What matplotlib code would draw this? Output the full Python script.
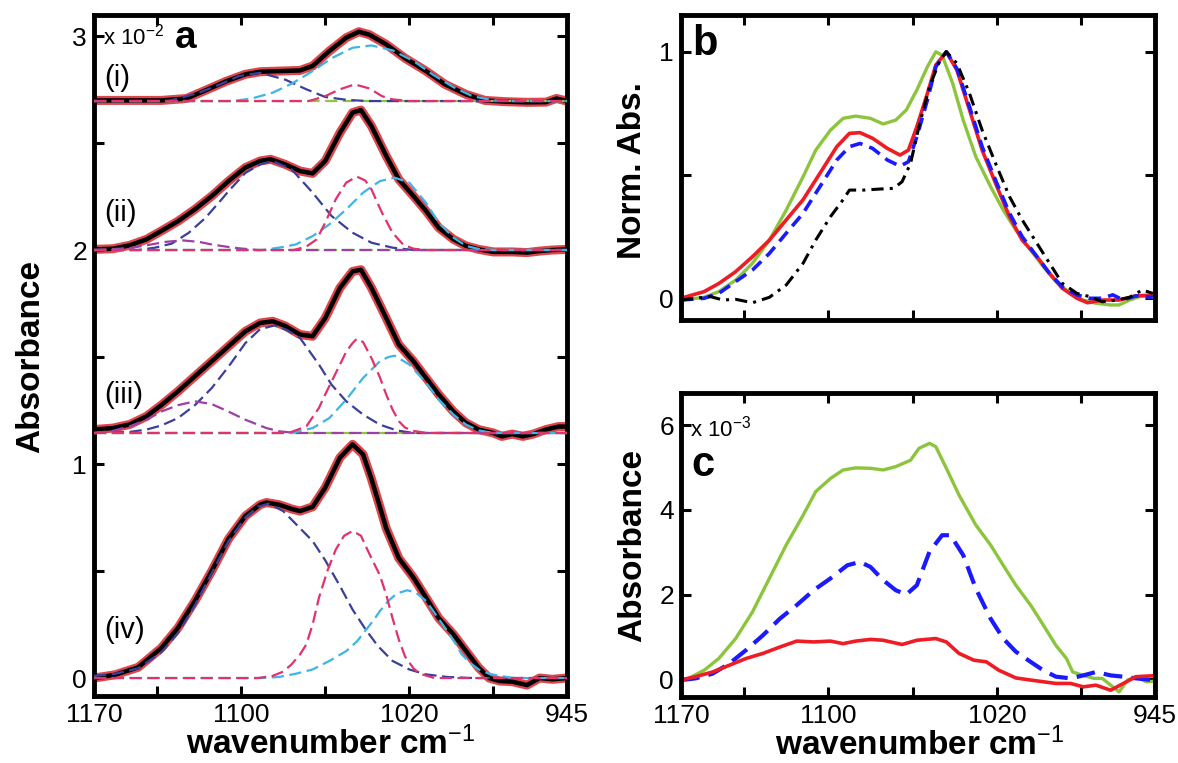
import matplotlib
matplotlib.use("Agg")
import matplotlib.pyplot as plt

plt.rcParams['font.family'] = ['Liberation Sans', 'DejaVu Sans']
plt.rcParams['mathtext.fontset'] = 'custom'
plt.rcParams['mathtext.rm'] = 'Liberation Sans'
plt.rcParams['mathtext.it'] = 'Liberation Sans'
plt.rcParams['mathtext.bf'] = 'Liberation Sans:bold'

# ---------------- panel a : band fits, heights above each baseline ----------------
offsets_a = [2.696, 2.0, 1.145, 0.0]
labels_a = ['(i)', '(ii)', '(iii)', '(iv)']

# (i)
wn_i = [1170, 1153, 1138, 1126, 1117, 1107, 1098, 1091, 1082, 1072, 1066, 1058, 1050, 1044, 1039,
        1031, 1022, 1012, 1003, 993, 984, 974, 964, 955, 950, 945]
data_i = [0.003, 0.003, 0.003, 0.012, 0.05, 0.093, 0.125, 0.137, 0.14, 0.143, 0.164, 0.234, 0.296, 0.324, 0.31,
          0.265, 0.2, 0.14, 0.078, 0.031, 0.003, -0.003, -0.006, -0.005, 0.012, 0.0]
navy_i_wn = [1170, 1135, 1130, 1120, 1110, 1101, 1091, 1079, 1069, 1060, 1050, 1040, 945]
navy_i = [0, 0, 0.012, 0.039, 0.078, 0.117, 0.132, 0.10, 0.055, 0.019, 0.006, 0, 0]
pink_i_wn = [1170, 1068, 1066, 1060, 1053, 1046, 1039, 1033, 1028, 1020, 945]
pink_i = [0, 0, 0.005, 0.023, 0.055, 0.078, 0.059, 0.023, 0.008, 0, 0]
cyan_i_wn = [1170, 1104, 1095, 1085, 1076, 1066, 1057, 1047, 1038, 1028, 1018, 1009, 999, 990, 980, 970, 945]
cyan_i = [0, 0, 0.012, 0.039, 0.081, 0.14, 0.2, 0.249, 0.26, 0.237, 0.187, 0.125, 0.065, 0.023, 0.003, 0, 0]

# (ii)
wn_ii = [1170, 1161, 1153, 1145, 1138, 1130, 1122, 1114, 1106, 1098, 1091, 1086, 1079, 1072, 1066, 1060,
         1053, 1047, 1043, 1038, 1031, 1025, 1018, 1012, 1006, 999, 993, 987, 980, 971, 964, 958, 952, 945]
data_ii = [0.003, 0.006, 0.022, 0.05, 0.089, 0.135, 0.19, 0.252, 0.322, 0.385, 0.416, 0.424, 0.40, 0.369, 0.358,
           0.416, 0.548, 0.642, 0.654, 0.579, 0.44, 0.33, 0.252, 0.182, 0.104, 0.05, 0.019, 0.003, -0.009,
           -0.009, -0.012, -0.005, 0.0, 0.003]
navy_ii_wn = [1170, 1149, 1141, 1133, 1125, 1117, 1109, 1106, 1098, 1091, 1085, 1076, 1066, 1057, 1047,
              1038, 1028, 1018, 945]
navy_ii = [0, 0, 0.011, 0.03, 0.08, 0.15, 0.24, 0.275, 0.36, 0.40, 0.416, 0.377, 0.268, 0.159, 0.081,
           0.034, 0.011, 0, 0]
purple_ii_wn = [1170, 1153, 1145, 1136, 1128, 1120, 1114, 1106, 1101, 1092, 945]
purple_ii = [0, 0.009, 0.022, 0.038, 0.045, 0.038, 0.026, 0.014, 0.008, 0, 0]
pink_ii_wn = [1170, 1075, 1069, 1064, 1060, 1055, 1050, 1045, 1041, 1038, 1033, 1028, 1023, 1018, 1012, 945]
pink_ii = [0, 0, 0.016, 0.05, 0.128, 0.237, 0.315, 0.343, 0.325, 0.283, 0.174, 0.081, 0.026, 0.006, 0, 0]
cyan_ii_wn = [1170, 1090, 1082, 1074, 1066, 1058, 1050, 1042, 1034, 1027, 1020, 1012, 1006, 999, 993, 987, 980, 945]
cyan_ii = [0, 0, 0.011, 0.026, 0.065, 0.12, 0.19, 0.268, 0.322, 0.338, 0.315, 0.22, 0.128, 0.058, 0.019,
           0.005, 0, 0]

# (iii)
wn_iii = [1170, 1161, 1153, 1145, 1138, 1130, 1122, 1114, 1106, 1098, 1091, 1085, 1079, 1072, 1066, 1060,
          1053, 1047, 1043, 1038, 1031, 1025, 1018, 1012, 1006, 999, 993, 987, 980, 976, 971, 966, 961,
          955, 949, 945]
data_iii = [0.016, 0.023, 0.04, 0.078, 0.13, 0.195, 0.265, 0.335, 0.405, 0.475, 0.514, 0.522, 0.5, 0.46, 0.452,
            0.537, 0.678, 0.755, 0.763, 0.678, 0.537, 0.413, 0.335, 0.257, 0.18, 0.10, 0.047, 0.016, 0.0,
            -0.016, -0.005, -0.016, -0.005, 0.016, 0.03, 0.03]
navy_iii_wn = [1170, 1153, 1145, 1138, 1130, 1122, 1114, 1106, 1098, 1091, 1084, 1078, 1072, 1063, 1057,
               1050, 1042, 1034, 1026, 1018, 945]
navy_iii = [0, 0.005, 0.016, 0.035, 0.07, 0.13, 0.21, 0.31, 0.42, 0.485, 0.503, 0.48, 0.444, 0.32, 0.226,
            0.148, 0.086, 0.039, 0.012, 0, 0]
purple_iii_wn = [1170, 1161, 1153, 1145, 1138, 1130, 1122, 1114, 1106, 1098, 1088, 1082, 1074, 945]
purple_iii = [0, 0.01, 0.031, 0.062, 0.1, 0.13, 0.148, 0.135, 0.1, 0.062, 0.023, 0.008, 0, 0]
pink_iii_wn = [1170, 1080, 1076, 1069, 1063, 1060, 1057, 1053, 1050, 1047, 1045, 1042, 1038, 1034, 1031,
               1028, 1025, 1022, 1018, 1012, 945]
pink_iii = [0, 0, 0.005, 0.031, 0.117, 0.18, 0.24, 0.32, 0.38, 0.42, 0.44, 0.425, 0.35, 0.26, 0.18,
            0.11, 0.055, 0.025, 0.01, 0, 0]
cyan_iii_wn = [1170, 1080, 1074, 1066, 1058, 1050, 1042, 1034, 1030, 1027, 1020, 1012, 1006, 999, 993, 987, 980, 945]
cyan_iii = [0, 0, 0.005, 0.023, 0.07, 0.156, 0.257, 0.335, 0.355, 0.361, 0.32, 0.234, 0.156, 0.086, 0.039,
            0.012, 0, 0]

# (iv)
wn_iv = [1170, 1160, 1149, 1138, 1130, 1122, 1114, 1106, 1098, 1091, 1088, 1082, 1076, 1072, 1066, 1060,
         1053, 1047, 1042, 1038, 1034, 1031, 1025, 1018, 1012, 1006, 999, 993, 987, 982, 977, 971, 964, 958,
         952, 945]
data_iv = [0.0, 0.015, 0.05, 0.14, 0.235, 0.36, 0.5, 0.65, 0.757, 0.81, 0.82, 0.81, 0.79, 0.78, 0.80, 0.89,
           1.03, 1.092, 1.045, 0.93, 0.80, 0.70, 0.56, 0.469, 0.375, 0.28, 0.204, 0.126, 0.048, 0.0, -0.014,
           -0.017, -0.033, 0.0, -0.006, 0.0]
navy_iv_wn = [1170, 1160, 1149, 1138, 1130, 1122, 1114, 1106, 1098, 1092, 1087, 1080, 1073, 1066, 1060,
              1053, 1047, 1041, 1035, 1028, 1020, 1012, 1002, 990, 945]
navy_iv = [0.01, 0.02, 0.045, 0.12, 0.21, 0.34, 0.49, 0.64, 0.75, 0.80, 0.815, 0.78, 0.71, 0.64, 0.55,
           0.43, 0.32, 0.23, 0.15, 0.08, 0.04, 0.017, 0.005, 0, 0]
pink_iv_wn = [1170, 1092, 1085, 1080, 1076, 1072, 1069, 1066, 1063, 1059, 1055, 1051, 1047, 1043, 1039,
              1034, 1031, 1028, 1025, 1022, 1018, 1015, 1008, 945]
pink_iv = [0, 0, 0.01, 0.03, 0.064, 0.11, 0.157, 0.25, 0.375, 0.5, 0.6, 0.665, 0.687, 0.665, 0.58,
           0.48, 0.39, 0.28, 0.18, 0.10, 0.045, 0.02, 0, 0]
cyan_iv_wn = [1170, 1090, 1082, 1074, 1066, 1058, 1050, 1045, 1041, 1037, 1034, 1030, 1026, 1021, 1017,
              1012, 1007, 1002, 998, 995, 991, 987, 982, 977, 970, 945]
cyan_iv = [0, 0, 0.005, 0.02, 0.04, 0.08, 0.126, 0.17, 0.22, 0.27, 0.313, 0.36, 0.395, 0.41, 0.40,
           0.36, 0.29, 0.22, 0.16, 0.11, 0.07, 0.04, 0.02, 0.01, 0, 0]

# ---------------- panel b : normalised absorbance ----------------
green_b_wn = [1170, 1159, 1152, 1144, 1136, 1128, 1120, 1112, 1106, 1099, 1093, 1087, 1080, 1074, 1068, 1063,
              1058, 1053, 1049, 1046, 1041, 1036, 1030, 1023, 1017, 1011, 1004, 998, 992, 985, 979, 973,
              966, 962, 957, 951, 946]
green_b = [-0.007, 0.004, 0.027, 0.074, 0.142, 0.236, 0.358, 0.493, 0.601, 0.682, 0.73, 0.739, 0.73, 0.707,
           0.723, 0.764, 0.845, 0.939, 1.0, 0.986, 0.872, 0.723, 0.574, 0.453, 0.358, 0.277, 0.196, 0.128,
           0.068, 0.02, -0.007, -0.02, -0.027, -0.027, -0.007, 0.01, 0.004]
red_b_wn = [1170, 1166, 1159, 1152, 1144, 1136, 1128, 1120, 1112, 1104, 1096, 1090, 1085, 1079, 1072, 1066,
            1062, 1058, 1053, 1049, 1044, 1039, 1033, 1027, 1020, 1014, 1008, 1001, 995, 989, 982, 977,
            970, 962, 954, 946]
red_b = [0, 0.01, 0.027, 0.06, 0.108, 0.169, 0.236, 0.318, 0.4, 0.507, 0.615, 0.669, 0.672, 0.649, 0.608,
         0.581, 0.601, 0.696, 0.831, 0.946, 1.0, 0.926, 0.764, 0.601, 0.453, 0.331, 0.236, 0.169, 0.101,
         0.041, 0.0, -0.018, -0.007, -0.007, 0.01, 0.013]
blue_b_wn = [1170, 1159, 1152, 1144, 1136, 1128, 1120, 1112, 1104, 1096, 1090, 1085, 1079, 1072, 1066, 1062,
             1058, 1053, 1049, 1044, 1039, 1033, 1027, 1020, 1014, 1008, 1001, 995, 989, 982, 976, 970,
             965, 960, 954, 946]
blue_b = [-0.007, 0.0, 0.02, 0.068, 0.115, 0.182, 0.264, 0.345, 0.453, 0.561, 0.615, 0.628, 0.608, 0.561,
          0.536, 0.554, 0.655, 0.804, 0.939, 1.0, 0.932, 0.777, 0.615, 0.466, 0.345, 0.25, 0.169, 0.101,
          0.047, 0.014, 0.0, 0.0, 0.014, -0.007, 0.01, 0.004]
black_b_wn = [1170, 1163, 1156, 1150, 1144, 1136, 1128, 1120, 1112, 1106, 1099, 1093, 1090, 1083, 1076, 1069,
              1065, 1061, 1057, 1052, 1047, 1044, 1039, 1033, 1027, 1020, 1014, 1008, 1001, 995, 989, 982,
              976, 970, 963, 957, 951, 946]
black_b = [-0.007, 0.0, 0.007, -0.007, -0.004, -0.018, 0.004, 0.054, 0.142, 0.236, 0.331, 0.4, 0.439, 0.439,
           0.443, 0.446, 0.473, 0.547, 0.696, 0.858, 0.966, 1.0, 0.953, 0.831, 0.682, 0.534, 0.412, 0.318,
           0.223, 0.142, 0.061, 0.02, 0.007, -0.014, -0.007, 0.004, 0.034, 0.02]

# ---------------- panel c : absorbance x 10^-3 ----------------
green_c_wn = [1170, 1166, 1159, 1152, 1144, 1136, 1128, 1120, 1112, 1106, 1099, 1093, 1087, 1080, 1074, 1068,
              1061, 1057, 1052, 1049, 1044, 1038, 1030, 1023, 1017, 1011, 1004, 998, 992, 987, 984, 979,
              974, 970, 965, 962, 958, 954, 949, 946]
green_c = [-0.02, 0.03, 0.21, 0.49, 0.96, 1.59, 2.38, 3.17, 3.87, 4.43, 4.74, 4.94, 4.99, 4.98, 4.94, 5.02,
           5.17, 5.45, 5.57, 5.49, 4.98, 4.35, 3.64, 3.17, 2.69, 2.22, 1.75, 1.28, 0.8, 0.49, 0.17, 0.09,
           0.02, 0.02, -0.18, -0.3, -0.02, 0.06, -0.06, -0.05]
blue_c_wn = [1170, 1163, 1155, 1147, 1139, 1131, 1123, 1115, 1107, 1099, 1091, 1085, 1080, 1074, 1068, 1063,
             1058, 1052, 1046, 1042, 1036, 1030, 1023, 1017, 1011, 1004, 998, 992, 985, 979, 973, 966,
             960, 954, 946]
blue_c = [-0.02, 0.02, 0.13, 0.37, 0.69, 1.04, 1.43, 1.75, 2.1, 2.38, 2.69, 2.77, 2.65, 2.34, 2.1, 2.0,
          2.22, 3.01, 3.4, 3.4, 2.93, 2.14, 1.43, 0.96, 0.65, 0.41, 0.21, 0.06, 0.02, 0.09, 0.17, 0.09,
          0.06, 0.02, -0.02]
red_c_wn = [1170, 1163, 1155, 1147, 1139, 1131, 1123, 1115, 1107, 1099, 1093, 1087, 1080, 1074, 1065, 1058,
            1049, 1044, 1038, 1031, 1025, 1019, 1011, 1004, 998, 992, 985, 979, 973, 966, 960, 954, 946]
red_c = [-0.02, 0.06, 0.17, 0.33, 0.49, 0.61, 0.76, 0.9, 0.88, 0.9, 0.84, 0.9, 0.94, 0.92, 0.82, 0.92,
         0.96, 0.88, 0.61, 0.45, 0.41, 0.21, 0.03, -0.02, -0.06, -0.1, -0.1, -0.18, -0.14, -0.26, -0.1,
         0.06, 0.08]

xticks = [1170, 1140, 1100, 1060, 1020, 980, 945]
xticklabels = ['1170', '', '1100', '', '1020', '', '945']

NAVY = '#3b3f99'
PINK = '#e0326e'
CYAN = '#3db5e6'
PURPLE = '#9c3fa6'
LGREEN = '#8dc63f'


def style_axes(ax):
    for s in ax.spines.values():
        s.set_linewidth(3.5)
    ax.tick_params(direction='in', top=True, right=True, length=7, width=2.2,
                   labelsize=19, pad=5)
    ax.set_xlim(1170, 945)
    ax.set_xticks(xticks)


fig = plt.figure(figsize=(11.78, 7.63), dpi=100)
axa = fig.add_axes([0.0798, 0.0878, 0.4015, 0.8925])
axb = fig.add_axes([0.578, 0.5806, 0.4024, 0.3997])
axc = fig.add_axes([0.578, 0.0865, 0.4024, 0.398])

# ---- panel a ----
spectra = [
    (wn_i, data_i, [(navy_i_wn, navy_i, NAVY), (cyan_i_wn, cyan_i, CYAN), (pink_i_wn, pink_i, PINK)]),
    (wn_ii, data_ii, [(navy_ii_wn, navy_ii, NAVY), (purple_ii_wn, purple_ii, PURPLE),
                      (cyan_ii_wn, cyan_ii, CYAN), (pink_ii_wn, pink_ii, PINK)]),
    (wn_iii, data_iii, [(navy_iii_wn, navy_iii, NAVY), (purple_iii_wn, purple_iii, PURPLE),
                        (cyan_iii_wn, cyan_iii, CYAN), (pink_iii_wn, pink_iii, PINK)]),
    (wn_iv, data_iv, [(navy_iv_wn, navy_iv, NAVY), (cyan_iv_wn, cyan_iv, CYAN), (pink_iv_wn, pink_iv, PINK)]),
]
for k, (wn, dat, comps) in enumerate(spectra):
    off = offsets_a[k]
    y = [v + off for v in dat]
    # red fit underneath, measured spectrum on top
    axa.plot(wn, y, color='#d8262c', lw=6.5, alpha=0.85, solid_capstyle='round', zorder=2)
    axa.plot(wn, y, color='black', lw=3.2, zorder=3)
    if k < 3:
        axa.plot([1170, 945], [off, off], color=LGREEN, lw=1.6, dashes=(5.5, 2.5), zorder=4)
    for cwn, cval, col in comps:
        axa.plot(cwn, [v + off for v in cval], color=col, lw=1.6, dashes=(5.5, 2.5), zorder=4)

style_axes(axa)
axa.set_ylim(-0.084, 3.098)
axa.set_yticks([0, 0.5, 1, 1.5, 2, 2.5, 3])
axa.set_yticklabels(['0', '', '1', '', '2', '', '3'])
axa.set_xticklabels(xticklabels)
axa.set_ylabel('Absorbance', fontsize=24, fontweight='bold')
axa.yaxis.set_label_coords(-0.101, 0.498)
axa.set_xlabel(r'wavenumber cm$^{-1}$', fontsize=24, fontweight='bold')
axa.xaxis.set_label_coords(0.5, -0.045)
axa.text(0.019, 0.968, r'x 10$^{-2}$', transform=axa.transAxes, fontsize=16, va='center')
axa.text(0.172, 0.966, 'a', transform=axa.transAxes, fontsize=28, fontweight='bold', va='center')
label_y = [0.907, 0.709, 0.442, 0.097]
for lab, yy in zip(labels_a, label_y):
    axa.text(0.022, yy, lab, transform=axa.transAxes, fontsize=21, va='center')

# ---- panel b ----
axb.plot(green_b_wn, green_b, color='#8cc43c', lw=2.4)
axb.plot(red_b_wn, red_b, color='#ee1c24', lw=2.6)
axb.plot(blue_b_wn, blue_b, color='#1a1aff', lw=2.6, dashes=(3.5, 2))
axb.plot(black_b_wn, black_b, color='black', lw=2.2, dashes=(4, 2, 1, 2))
style_axes(axb)
axb.set_ylim(-0.088, 1.149)
axb.set_yticks([0, 0.5, 1])
axb.set_yticklabels(['0', '', '1'])
axb.set_xticklabels([])
axb.set_ylabel('Norm. Abs.', fontsize=24, fontweight='bold')
axb.yaxis.set_label_coords(-0.07, 0.49)
axb.text(0.023, 0.905, 'b', transform=axb.transAxes, fontsize=30, fontweight='bold', va='center')

# ---- panel c ----
axc.plot(green_c_wn, green_c, color='#8cc43c', lw=2.4)
axc.plot(blue_c_wn, blue_c, color='#1a1aff', lw=3.0, dashes=(4.5, 2.2))
axc.plot(red_c_wn, red_c, color='#ee1c24', lw=2.6)
style_axes(axc)
axc.set_ylim(-0.42, 6.75)
axc.set_yticks([0, 2, 4, 6])
axc.set_xticklabels(xticklabels)
axc.set_ylabel('Absorbance', fontsize=24, fontweight='bold')
axc.yaxis.set_label_coords(-0.07, 0.5)
axc.set_xlabel(r'wavenumber cm$^{-1}$', fontsize=24, fontweight='bold')
axc.xaxis.set_label_coords(0.504, -0.1)
axc.text(0.019, 0.885, r'x 10$^{-3}$', transform=axc.transAxes, fontsize=16, va='center')
axc.text(0.023, 0.765, 'c', transform=axc.transAxes, fontsize=30, fontweight='bold', va='center')

fig.savefig('out.png', dpi=100)
